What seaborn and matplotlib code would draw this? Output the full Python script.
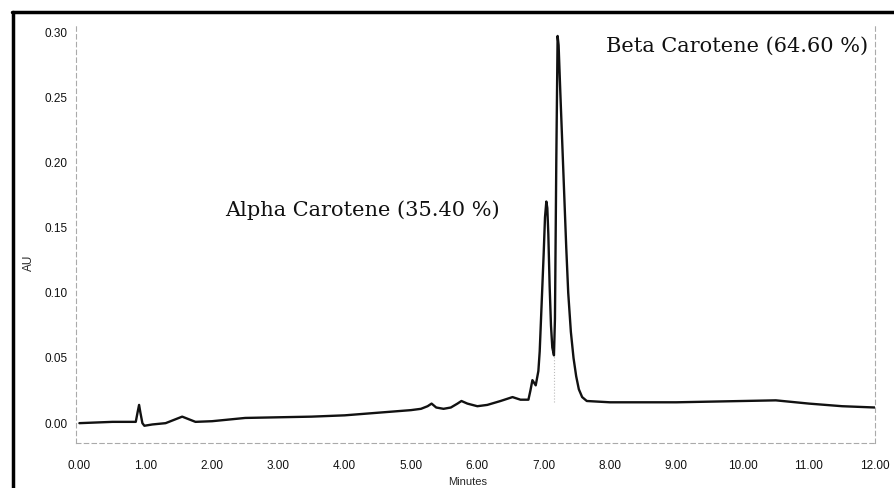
import matplotlib
matplotlib.use("Agg")
import matplotlib.pyplot as plt
import seaborn as sns
import pandas as pd
from matplotlib.lines import Line2D

# Retention time (minutes) and absorbance (AU)
minutes = [0.0, 0.5, 0.85, 0.88, 0.90, 0.92, 0.95, 0.98, 1.10, 1.30, 1.45, 1.55, 1.65,
           1.75, 2.0, 2.5, 3.0, 3.5, 4.0, 4.5, 5.0, 5.15, 5.25, 5.31, 5.38, 5.49, 5.60,
           5.70, 5.76, 5.85, 6.0, 6.15, 6.35, 6.53, 6.65, 6.77, 6.80, 6.83, 6.88, 6.92,
           6.94, 6.96, 6.98, 7.00, 7.02, 7.04, 7.055, 7.07, 7.09, 7.11, 7.13, 7.155,
           7.17, 7.19, 7.21, 7.225, 7.25, 7.28, 7.31, 7.34, 7.37, 7.41, 7.45, 7.49,
           7.53, 7.58, 7.65, 8.0, 9.0, 10.0, 10.5, 11.0, 11.5, 12.0]
absorbance = [0.000, 0.001, 0.001, 0.009, 0.014, 0.008, 0.000, -0.002, -0.001, 0.000,
              0.003, 0.005, 0.003, 0.001, 0.0015, 0.004, 0.0045, 0.005, 0.006, 0.008,
              0.010, 0.011, 0.013, 0.015, 0.012, 0.011, 0.012, 0.015, 0.017, 0.015,
              0.013, 0.014, 0.017, 0.020, 0.018, 0.018, 0.025, 0.033, 0.029, 0.040,
              0.055, 0.080, 0.105, 0.130, 0.158, 0.170, 0.165, 0.145, 0.105, 0.075,
              0.058, 0.052, 0.080, 0.200, 0.297, 0.290, 0.255, 0.215, 0.175, 0.135,
              0.100, 0.070, 0.050, 0.036, 0.026, 0.020, 0.017, 0.016, 0.016, 0.017,
              0.0175, 0.015, 0.013, 0.012]

x_ticks = [0, 1, 2, 3, 4, 5, 6, 7, 8, 9, 10, 11, 12]
x_tick_labels = ["0.00", "1.00", "2.00", "3.00", "4.00", "5.00", "6.00", "7.00",
                 "8.00", "9.00", "10.00", "11.00", "12.00"]
y_ticks = [0.00, 0.05, 0.10, 0.15, 0.20, 0.25, 0.30]
y_tick_labels = ["0.00", "0.05", "0.10", "0.15", "0.20", "0.25", "0.30"]

peak_labels = ["Alpha Carotene (35.40 %)", "Beta Carotene (64.60 %)"]
peak_label_pos = [(4.27, 0.163), (9.92, 0.289)]

df = pd.DataFrame({"Minutes": minutes, "AU": absorbance})

sns.set_theme(style="white")
plt.rcParams["font.family"] = ["Liberation Sans", "DejaVu Sans"]

fig = plt.figure(figsize=(8.95, 4.88), dpi=100)
ax = fig.add_axes([0.085, 0.092, 0.893, 0.861])

sns.lineplot(data=df, x="Minutes", y="AU", ax=ax, color="#111111", linewidth=1.7,
             estimator=None, sort=False)

# faint drop line between the two peaks
ax.vlines(7.16, 0.016, 0.052, colors="#bbbbbb", linestyles=":", linewidth=0.8)

ax.set_xlim(-0.05, 12.0)
ax.set_ylim(-0.0153, 0.307)
ax.set_xticks(x_ticks)
ax.set_xticklabels(x_tick_labels, fontsize=8.5)
ax.set_yticks(y_ticks)
ax.set_yticklabels(y_tick_labels, fontsize=8.5)
ax.tick_params(axis="x", length=0, pad=12, colors="#111111")
ax.tick_params(axis="y", length=0, pad=6, colors="#111111")
ax.set_xlabel("Minutes", fontsize=8)
ax.xaxis.set_label_coords(0.49, -0.08)
ax.set_ylabel("AU", fontsize=8.5)
ax.yaxis.set_label_coords(-0.052, 0.43)

ax.spines["top"].set_visible(False)
for side in ["left", "bottom", "right"]:
    ax.spines[side].set_color("#aaaaaa")
    ax.spines[side].set_linestyle((0, (4, 3)))
    ax.spines[side].set_linewidth(0.8)

for txt, (tx, ty) in zip(peak_labels, peak_label_pos):
    ax.text(tx, ty, txt, ha="center", va="center", fontsize=15,
            family=["DejaVu Serif"], color="#111111")

# thick black frame of the scanned figure (left and top edges)
fig.add_artist(Line2D([0.0145, 0.0145], [0.0, 0.976], transform=fig.transFigure,
                      color="black", linewidth=2.5))
fig.add_artist(Line2D([0.013, 1.0], [0.975, 0.975], transform=fig.transFigure,
                      color="black", linewidth=2.5))

fig.savefig("out.png", dpi=100, facecolor="white")
